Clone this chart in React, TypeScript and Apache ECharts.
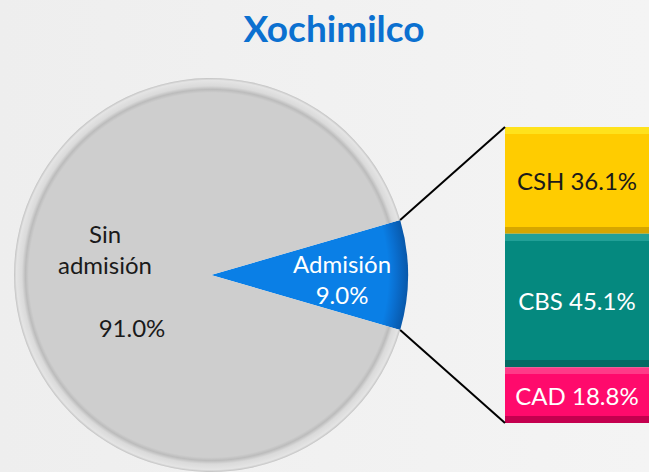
import React, { useEffect, useRef } from "react";
import * as echarts from "echarts";

const titleText = "Xochimilco";
const pieNames = ["Admisión", "Sin admisión"];
const pieValues = [9.0, 91.0];
const barNames = ["CSH", "CBS", "CAD"];
const barValues = [36.1, 45.1, 18.8];
const barColors = ["#FFCC00", "#05897F", "#FF0A6C"];
const barLight = ["#FFE21C", "#22A097", "#FF3A88"];
const barDark = ["#D6A600", "#036A63", "#C4004F"];
const barLabelColors = ["#1a1a1a", "#ffffff", "#ffffff"];

export default function App() {
  const ref = useRef<HTMLDivElement>(null);
  useEffect(() => {
    const chart = echarts.init(ref.current!, null, { renderer: "svg" });
    const cx = 211, cy = 275, R = 197;
    const half = (pieValues[0] / 100) * Math.PI;
    const gridLeft = 505, gridTop = 127, gridH = 296, gridW = 154;
    const font = "Lato, 'Open Sans', sans-serif";
    const bevel = 7;

    const barSeries = barNames.map((name, i) => {
      const v = barValues[i];
      const f = bevel / ((v / 100) * gridH);
      return {
        type: "bar",
        name,
        stack: "adm",
        data: [v],
        barWidth: "100%",
        itemStyle: {
          color: {
            type: "linear", x: 0, y: 0, x2: 0, y2: 1,
            colorStops: [
              { offset: 0, color: barLight[i] },
              { offset: f, color: barLight[i] },
              { offset: f, color: barColors[i] },
              { offset: 1 - f, color: barColors[i] },
              { offset: 1 - f, color: barDark[i] },
              { offset: 1, color: barDark[i] },
            ],
          },
        },
        label: {
          show: true,
          position: "inside",
          formatter: `${name} ${v.toFixed(1)}%`,
          color: barLabelColors[i],
          fontFamily: font,
          fontSize: 24,
        },
        emphasis: { disabled: true },
      };
    });

    const sinParts = pieNames[1].split(" ");

    chart.setOption({
      animation: false,
      backgroundColor: {
        type: "linear", x: 0, y: 0, x2: 1, y2: 0,
        colorStops: [
          { offset: 0, color: "#eeeeee" },
          { offset: 1, color: "#f4f4f4" },
        ],
      },
      grid: { left: gridLeft, top: gridTop, width: gridW, height: gridH },
      xAxis: { type: "category", data: [pieNames[0]], show: false },
      yAxis: { type: "value", min: 0, max: 100, inverse: true, show: false },
      series: [
        {
          type: "pie",
          center: [cx, cy],
          radius: R,
          startAngle: (pieValues[0] / 100) * 180,
          clockwise: true,
          label: { show: false },
          labelLine: { show: false },
          emphasis: { disabled: true },
          data: [
            {
              name: pieNames[0],
              value: pieValues[0],
              itemStyle: {
                color: {
                  type: "radial", x: cx, y: cy, r: R, global: true,
                  colorStops: [
                    { offset: 0, color: "#0a7fe6" },
                    { offset: 0.9, color: "#0a7fe6" },
                    { offset: 0.94, color: "#0a6fd0" },
                    { offset: 1, color: "#0858aa" },
                  ],
                },
              },
            },
            {
              name: pieNames[1],
              value: pieValues[1],
              itemStyle: {
                color: {
                  type: "radial", x: cx, y: cy, r: R, global: true,
                  colorStops: [
                    { offset: 0, color: "#cecece" },
                    { offset: 0.925, color: "#cecece" },
                    { offset: 0.942, color: "#bcbcbc" },
                    { offset: 0.96, color: "#dadada" },
                    { offset: 0.988, color: "#e4e4e4" },
                    { offset: 1, color: "#c2c2c2" },
                  ],
                },
              },
            },
          ],
        },
        ...barSeries,
      ],
      graphic: [
        {
          type: "text", x: 334, y: 27, z: 10,
          style: {
            text: titleText, fill: "#0b70d0", font: `bold 37px ${font}`,
            textAlign: "center", textVerticalAlign: "middle",
          },
        },
        {
          type: "line", z: 10,
          shape: { x1: cx + R * Math.cos(half), y1: cy - R * Math.sin(half), x2: gridLeft, y2: gridTop },
          style: { stroke: "#000", lineWidth: 2 },
        },
        {
          type: "line", z: 10,
          shape: { x1: cx + R * Math.cos(half), y1: cy + R * Math.sin(half), x2: gridLeft, y2: gridTop + gridH },
          style: { stroke: "#000", lineWidth: 2 },
        },
        {
          type: "text", x: 342, y: 263, z: 10,
          style: { text: pieNames[0], fill: "#ffffff", font: `24px ${font}`, textAlign: "center", textVerticalAlign: "middle" },
        },
        {
          type: "text", x: 342, y: 294, z: 10,
          style: { text: `${pieValues[0].toFixed(1)}%`, fill: "#ffffff", font: `24px ${font}`, textAlign: "center", textVerticalAlign: "middle" },
        },
        {
          type: "text", x: 105, y: 233, z: 10,
          style: { text: sinParts[0], fill: "#1a1a1a", font: `24px ${font}`, textAlign: "center", textVerticalAlign: "middle" },
        },
        {
          type: "text", x: 105, y: 264, z: 10,
          style: { text: sinParts.slice(1).join(" "), fill: "#1a1a1a", font: `24px ${font}`, textAlign: "center", textVerticalAlign: "middle" },
        },
        {
          type: "text", x: 132, y: 327, z: 10,
          style: { text: `${pieValues[1].toFixed(1)}%`, fill: "#1a1a1a", font: `24px ${font}`, textAlign: "center", textVerticalAlign: "middle" },
        },
      ],
    });
    return () => chart.dispose();
  }, []);
  return (
    <div
      ref={ref}
      style={{ position: "fixed", left: 0, top: 0, width: 649, height: 472 }}
    />
  );
}
